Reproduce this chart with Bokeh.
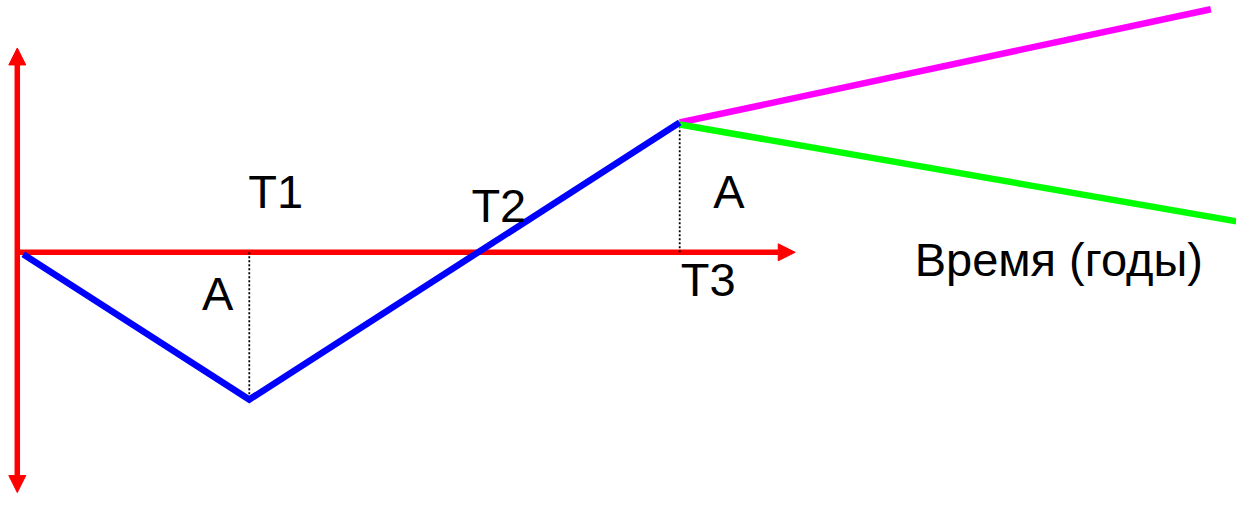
from bokeh.plotting import figure
from bokeh.models import Range1d, Arrow, NormalHead, ColumnDataSource
from bokeh.core.properties import value
from bokeh.embed import file_html
from bokeh.resources import INLINE

# Diagram data (time axis units, value units; origin at axes crossing)
blue_x = [6, 235, 671]
blue_y = [-2, -152, 134]
magenta_x = [671, 1209]
magenta_y = [134, 251]
green_x = [671, 1235]
green_y = [132, 32]
time_axis_end = 788
value_axis_top = 211
value_axis_bottom = -248
drop_x = [235, 671]
drop_y = [-152, 133]
label_text = ["T1", "A", "T2", "A", "T3", "Время (годы)"]
label_x = [234, 187, 460, 705, 672, 909]
label_y = [63, -43, 48, 63, -28, -7]

p = figure(width=1236, height=493, x_range=Range1d(-17, 1235), y_range=Range1d(-249, 260),
           output_backend="svg", toolbar_location=None, min_border=0,
           x_axis_location=None, y_axis_location=None)
p.grid.visible = False
p.outline_line_color = None
p.background_fill_color = "white"
p.border_fill_color = "white"

# axes (arrows) beneath glyphs
p.add_layout(Arrow(end=NormalHead(size=17, fill_color="#FF0000", line_color="#FF0000", line_width=1),
                   x_start=0, y_start=0, x_end=time_axis_end, y_end=0,
                   line_color="#FF0000", line_width=5.5, level="underlay"))
p.add_layout(Arrow(start=NormalHead(size=17, fill_color="#FF0000", line_color="#FF0000", line_width=1),
                   end=NormalHead(size=17, fill_color="#FF0000", line_color="#FF0000", line_width=1),
                   x_start=0, y_start=value_axis_bottom, x_end=0, y_end=value_axis_top,
                   line_color="#FF0000", line_width=5.5, level="underlay"))

# dotted drop lines
p.segment(x0=drop_x, y0=[0, 0], x1=drop_x, y1=drop_y, line_color="black",
          line_width=1.8, line_dash="2 2")

p.line(magenta_x, magenta_y, line_color="#FF00FF", line_width=6.5)
p.line(green_x, green_y, line_color="#00FF00", line_width=6.5)
p.line(blue_x, blue_y, line_color="#0000FF", line_width=6.5, line_join="miter")

src = ColumnDataSource(dict(x=label_x, y=label_y, t=label_text))
p.text(x="x", y="y", text="t", source=src, text_font=value("Liberation Sans"),
       text_font_size="47px", text_color="black", text_align="left",
       text_baseline="alphabetic")

open("out.html", "w").write(file_html(p, INLINE))
